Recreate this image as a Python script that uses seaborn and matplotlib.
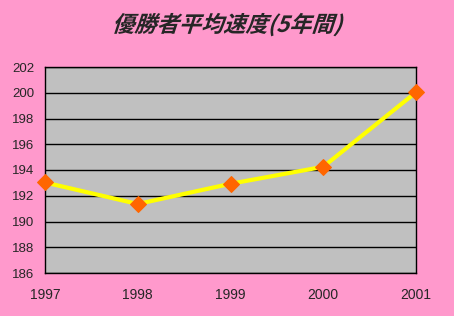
import matplotlib
matplotlib.use("Agg")
import matplotlib.pyplot as plt
import seaborn as sns
import pandas as pd
from matplotlib.patheffects import AbstractPathEffect
from matplotlib.transforms import Affine2D

years = [1997, 1998, 1999, 2000, 2001]
speeds = [193.03, 191.36, 192.93, 194.25, 200.04]
yticks = [186, 188, 190, 192, 194, 196, 198, 200, 202]
title = "優勝者平均速度(5年間)"

sns.set_style("white")
plt.rcParams['font.family'] = ['Liberation Sans', 'Noto Sans CJK JP', 'DejaVu Sans']


class Oblique(AbstractPathEffect):
    def __init__(self, angle=15):
        super().__init__()
        self.angle = angle

    def draw_path(self, renderer, gc, tpath, affine, rgbFace=None):
        renderer.draw_path(gc, tpath, Affine2D().skew_deg(self.angle, 0) + affine, rgbFace)


df = pd.DataFrame({"year": years, "speed": speeds})

fig = plt.figure(figsize=(4.54, 3.16), dpi=100, facecolor="#FF99CC")
ax = fig.add_axes([45/454, 1 - 273/316, (416-45)/454, (273-67)/316])
ax.set_facecolor("#C0C0C0")

sns.lineplot(data=df, x="year", y="speed", ax=ax, color="#FFFF00", linewidth=3,
             marker="D", markersize=8, markerfacecolor="#FF6600",
             markeredgecolor="#FF6600", clip_on=False, zorder=5)

ax.set_xlim(1997, 2001)
ax.set_ylim(186, 202)
ax.set_xticks(years)
ax.set_xticklabels([str(y) for y in years])
ax.set_yticks(yticks)
ax.set_yticklabels([str(v) for v in yticks])
ax.grid(axis="y", color="black", linewidth=1)
ax.set_axisbelow(True)
for s in ax.spines.values():
    s.set_color("black")
    s.set_linewidth(1)
ax.tick_params(axis="x", direction="in", length=4, color="black", labelsize=10, pad=11)
ax.tick_params(axis="y", length=0, labelsize=9.5, pad=7.5)
ax.set_xlabel("")
ax.set_ylabel("")

fig.text(227/454, 1 - 25/316, title, ha="center", va="center", fontsize=16,
         fontweight="bold", family=['Noto Sans CJK JP', 'DejaVu Sans'],
         path_effects=[Oblique(18)])

fig.savefig("out.png", dpi=100, facecolor=fig.get_facecolor())
